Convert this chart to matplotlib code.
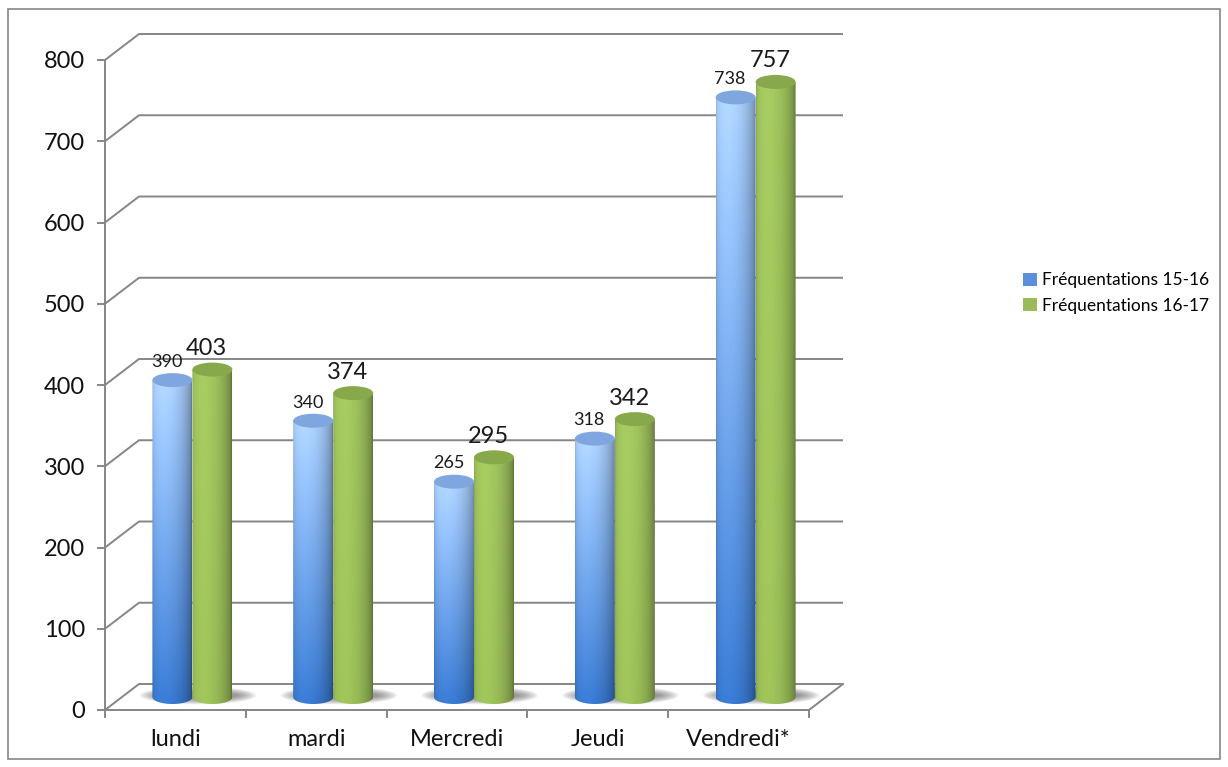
import numpy as np
import matplotlib.pyplot as plt
from matplotlib.patches import Ellipse, PathPatch, Rectangle, Patch
from matplotlib.path import Path
from matplotlib.colors import to_rgb

jours = ["lundi", "mardi", "Mercredi", "Jeudi", "Vendredi*"]
freq_15_16 = [390, 340, 265, 318, 738]
freq_16_17 = [403, 374, 295, 342, 757]
series_names = ["Fréquentations 15-16", "Fréquentations 16-17"]
yticks = list(range(0, 900, 100))

plt.rcParams['font.family'] = ['Lato', 'DejaVu Sans']
GRID = '#868686'

W, H = 1228, 767
fig = plt.figure(figsize=(W / 100, H / 100), dpi=100)

# plot area in pixels, and pixel sizes of one category / one unit of value
left_px, right_px, bottom_px, top_px = 105, 860, 710, 25
unit_x = 140.8
unit_y = 0.8125
ax = fig.add_axes([left_px / W, 1 - bottom_px / H,
                   (right_px - left_px) / W, (bottom_px - top_px) / H])
xlim = (-0.5, -0.5 + (right_px - left_px) / unit_x)
ylim = (0, (bottom_px - top_px) / unit_y)

# fake 3D depth offset, and cylinder radii, in data units
DX, DY = 34 / unit_x, 26 / unit_y
RX, RY = 20 / unit_x, 7 / unit_y

n = len(jours)
x_first, x_last = -0.5, n - 0.5

# back wall gridlines + floor
for v in yticks:
    ax.plot([x_first, x_first + DX, x_last + DX], [v, v + DY, v + DY],
            color=GRID, lw=1.4, solid_capstyle='butt', zorder=1)
ax.plot([x_last, x_last + DX], [0, DY], color=GRID, lw=1.4, zorder=1)


def shade_profile(nx):
    u = np.linspace(0, 1, nx)
    theta = np.arcsin(np.clip(2 * u - 1, -1, 1))
    return np.clip(0.74 + 0.32 * np.cos(theta + 0.45), 0, 1.2)


def cylinder(cx, base, top, bottom_col, top_col, cap_col, z):
    x0, x1 = cx - RX, cx + RX
    t = np.linspace(0, -np.pi, 50)
    verts = [(x0, top), (x1, top)] + [(cx + RX * np.cos(a), base + RY * np.sin(a)) for a in t]
    verts.append((x0, top))
    codes = [Path.MOVETO] + [Path.LINETO] * (len(verts) - 2) + [Path.CLOSEPOLY]
    clip = PathPatch(Path(verts, codes), facecolor='none', edgecolor='none',
                     transform=ax.transData)
    ax.add_patch(clip)

    nx, ny = 60, 120
    v = np.linspace(0, 1, ny)[:, None, None]
    c0, c1 = np.array(to_rgb(bottom_col)), np.array(to_rgb(top_col))
    body = c0 + (c1 - c0) * v
    body = body * shade_profile(nx)[None, :, None]
    body = np.clip(body, 0, 1)
    img = ax.imshow(body, extent=(x0, x1, base - RY, top), origin='lower',
                    aspect='auto', interpolation='bilinear', zorder=z)
    img.set_clip_path(clip)

    cap = Ellipse((cx, top), 2 * RX, 2 * RY, facecolor=cap_col,
                  edgecolor='none', zorder=z + 0.1)
    ax.add_patch(cap)


base = DY / 2
blue_lo, blue_hi, blue_cap = '#3776cc', '#a9cefb', '#7fa6de'
green_lo, green_hi, green_cap = '#98bb56', '#9ec15c', '#88a94b'

for i in range(n):
    pair_c = i + DX / 2
    # soft floor shadow behind each pair
    for k in range(12):
        ax.add_patch(Ellipse((pair_c + 0.04, base + 2), 4 * RX + 0.26 - k * 0.025,
                             18 / unit_y - k * 1.3, facecolor='#555555',
                             edgecolor='none', alpha=0.07, zorder=2))
    cb = pair_c - RX
    cg = pair_c + RX
    cylinder(cb, base, freq_15_16[i] + base, blue_lo, blue_hi, blue_cap, 3)
    cylinder(cg, base, freq_16_17[i] + base, green_lo, green_hi, green_cap, 4)

    ax.annotate(str(freq_15_16[i]), (cb, freq_15_16[i] + base), xytext=(-4, 9.5),
                textcoords='offset points', ha='center', va='baseline',
                fontsize=13, color='#1a1a1a', zorder=6)
    ax.annotate(str(freq_16_17[i]), (cg, freq_16_17[i] + base), xytext=(-4, 10.5),
                textcoords='offset points', ha='center', va='baseline',
                fontsize=17, color='#1a1a1a', zorder=6)

# axes
for s in ['top', 'right']:
    ax.spines[s].set_visible(False)
ax.spines['left'].set_bounds(0, yticks[-1])
ax.spines['bottom'].set_bounds(x_first, x_last)
for s in ['left', 'bottom']:
    ax.spines[s].set_color(GRID)
    ax.spines[s].set_linewidth(1.4)
    ax.spines[s].set_zorder(1)

ax.set_yticks(yticks)
ax.set_yticklabels([str(v) for v in yticks])
ax.tick_params(axis='y', length=5.5, width=1.4, color=GRID, pad=9,
               labelsize=17, labelcolor='#111111')
ax.set_xticks(np.arange(x_first, x_last + 0.5, 1.0))
ax.set_xticklabels([])
ax.set_xticks(np.arange(n), minor=True)
ax.set_xticklabels(jours, minor=True)
ax.tick_params(axis='x', which='major', length=5.5, width=1.4, color=GRID)
ax.tick_params(axis='x', which='minor', length=0, pad=14, labelsize=17,
               labelcolor='#111111')

ax.set_xlim(*xlim)
ax.set_ylim(*ylim)
ax.patch.set_visible(False)

handles = [Patch(facecolor='#5b8fdc', edgecolor='none'),
           Patch(facecolor='#9bbb59', edgecolor='none')]
fig.legend(handles, series_names, loc='center left',
           bbox_to_anchor=(1016 / W, 1 - 293 / H), frameon=False,
           fontsize=12.5, handlelength=0.8, handleheight=0.8,
           handletextpad=0.3, labelspacing=0.55, borderaxespad=0)

# outer chart border
fig.patches.append(Rectangle((8 / W, 8 / H), 1212 / W, 750 / H,
                             transform=fig.transFigure, fill=False,
                             edgecolor=GRID, lw=1.2))

fig.savefig('out.png', dpi=100)
